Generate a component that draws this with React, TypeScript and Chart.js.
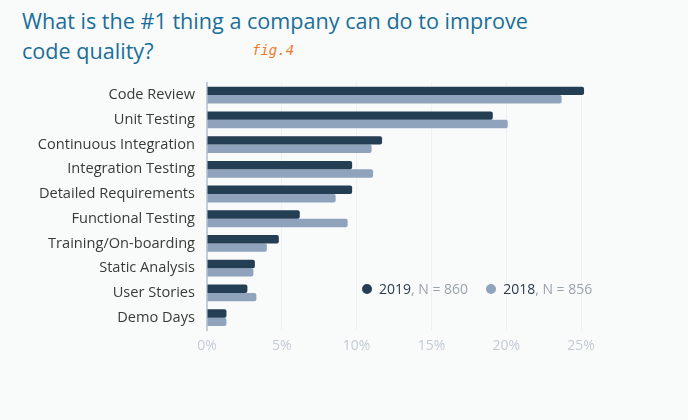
import React, { useEffect, useRef } from "react";
import Chart from "chart.js/auto";

const categories = [
    "Code Review",
    "Unit Testing",
    "Continuous Integration",
    "Integration Testing",
    "Detailed Requirements",
    "Functional Testing",
    "Training/On-boarding",
    "Static Analysis",
    "User Stories",
    "Demo Days",
];
const values2019 = [25.2, 19.1, 11.7, 9.7, 9.7, 6.2, 4.8, 3.2, 2.7, 1.3];
const values2018 = [23.7, 20.1, 11.0, 11.1, 8.6, 9.4, 4.0, 3.1, 3.3, 1.3];
const tickValues = [0, 5, 10, 15, 20, 25];

const DARK = "#243e54";
const LIGHT = "#8fa3bd";

export default function App() {
    const canvas = useRef<HTMLCanvasElement>(null);

    useEffect(() => {
        document.body.style.margin = "0";
        const chart = new Chart(canvas.current!, {
            type: "bar",
            data: {
                labels: categories,
                datasets: [
                    { label: "2019", data: values2019, backgroundColor: DARK, borderRadius: 2, barPercentage: 1, categoryPercentage: 0.68 },
                    { label: "2018", data: values2018, backgroundColor: LIGHT, borderRadius: 2, barPercentage: 1, categoryPercentage: 0.68 },
                ],
            },
            options: {
                indexAxis: "y",
                animation: false,
                responsive: false,
                layout: { padding: { top: 4, right: 2 } },
                plugins: { legend: { display: false }, tooltip: { enabled: false } },
                scales: {
                    x: {
                        min: 0,
                        max: 26.8,
                        afterFit: (s: any) => { s.height = 30; },
                        afterBuildTicks: (s: any) => { s.ticks = tickValues.map((v) => ({ value: v })); },
                        ticks: { color: "#c3cbd4", font: { family: "Open Sans", size: 14 }, callback: (v: any) => v + "%", padding: 8 },
                        grid: { color: "#eef1f3", drawTicks: false },
                        border: { display: false },
                    },
                    y: {
                        afterFit: (s: any) => { s.width = 207; },
                        ticks: { color: "#3a3a3a", font: { family: "Open Sans", size: 14.6 }, padding: 12 },
                        grid: { display: false, drawTicks: false },
                        border: { color: "#c5ccd3", width: 2 },
                    },
                },
            },
        });
        return () => chart.destroy();
    }, []);

    return (
        <div style={{ position: "relative", width: 688, height: 420, background: "#f9fbfb", fontFamily: "Open Sans" }}>
            <div style={{ position: "absolute", left: 22, top: 6, fontSize: 21.6, lineHeight: "30px", color: "#1a6e99" }}>
                What is the #1 thing a company can do to improve<br />code quality?
            </div>
            <div style={{ position: "absolute", left: 252, top: 42, fontFamily: "DejaVu Sans Mono", fontStyle: "italic", fontSize: 14, color: "#f07a2c" }}>
                fig.4
            </div>
            <canvas ref={canvas} width={610} height={298} style={{ position: "absolute", left: 0, top: 62 }} />
            <div style={{ position: "absolute", left: 362, top: 279, fontSize: 14, color: "#9aa3ad", display: "flex", alignItems: "center" }}>
                <span style={{ width: 10, height: 10, borderRadius: 5, background: DARK, marginRight: 7 }} />
                <span style={{ color: "#2b3b4b" }}>2019</span>, N = 860
                <span style={{ width: 10, height: 10, borderRadius: 5, background: LIGHT, marginLeft: 18, marginRight: 7 }} />
                <span style={{ color: "#2b3b4b" }}>2018</span>, N = 856
            </div>
        </div>
    );
}
